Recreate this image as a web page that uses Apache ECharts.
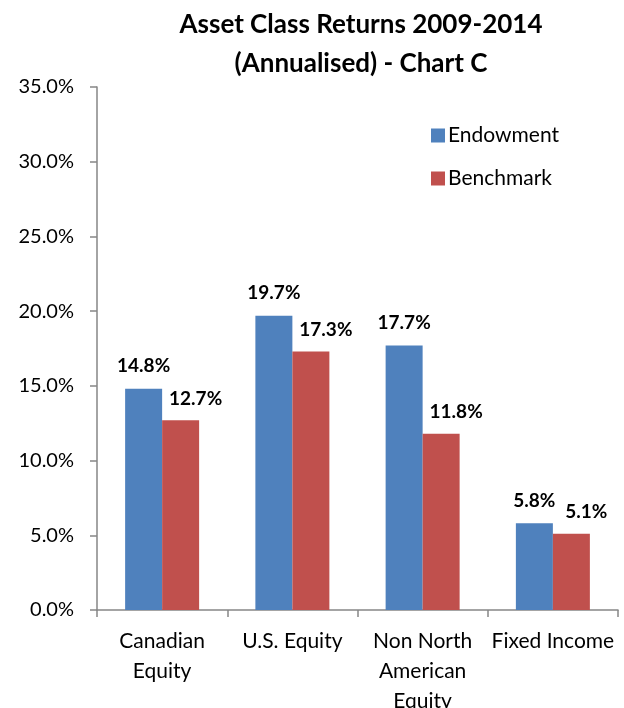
<!DOCTYPE html>
<html>
<head>
<meta charset="utf-8">
<script src="https://cdn.jsdelivr.net/npm/echarts@6/dist/echarts.min.js"></script>
<style>
  html, body { margin: 0; padding: 0; background: #fff; }
  #chart { width: 624px; height: 708px; }
</style>
</head>
<body>
<div id="chart"></div>
<script>
const categories = ["Canadian\nEquity", "U.S. Equity", "Non North\nAmerican\nEquity", "Fixed Income"];
const endowment = [14.8, 19.7, 17.7, 5.8];
const benchmark = [12.7, 17.3, 11.8, 5.1];
const yTicks = [0, 5, 10, 15, 20, 25, 30, 35];

const font = "Lato, 'Open Sans', sans-serif";
const chart = echarts.init(document.getElementById("chart"));

chart.setOption({
  animation: false,
  textStyle: { fontFamily: font },
  title: {
    text: "Asset Class Returns 2009-2014\n(Annualised) - Chart C",
    left: 356,
    top: 0,
    textAlign: "center",
    textStyle: { fontSize: 26, fontWeight: "bold", color: "#000", lineHeight: 39, fontFamily: font }
  },
  legend: {
    orient: "vertical",
    left: 426,
    top: 120,
    itemWidth: 14,
    itemHeight: 14,
    itemGap: 22,
    icon: "rect",
    textStyle: { fontSize: 21, color: "#000", fontFamily: font, padding: [0, 0, 0, -2] },
    data: ["Endowment", "Benchmark"]
  },
  grid: { left: 97, right: 6, top: 87, bottom: 98, outerBoundsMode: "none" },
  xAxis: {
    type: "category",
    data: categories,
    axisLine: { lineStyle: { color: "#868686", width: 1.5 } },
    axisTick: { show: true, length: 7, lineStyle: { color: "#868686", width: 1.5 } },
    axisLabel: { fontSize: 21, color: "#000", lineHeight: 30, margin: 16, interval: 0, fontFamily: font }
  },
  yAxis: {
    type: "value",
    min: yTicks[0],
    max: yTicks[yTicks.length - 1],
    interval: 5,
    splitLine: { show: false },
    axisLine: { show: true, lineStyle: { color: "#868686", width: 1.5 } },
    axisTick: { show: true, length: 7, lineStyle: { color: "#868686", width: 1.5 } },
    axisLabel: {
      fontSize: 20, color: "#000", margin: 23, fontFamily: font,
      formatter: v => v.toFixed(1) + "%"
    }
  },
  series: [
    {
      name: "Endowment",
      type: "bar",
      data: endowment,
      barWidth: 37,
      barGap: "0%",
      itemStyle: { color: "#4f81bd" },
      label: {
        show: true, position: "top", distance: 13,
        fontSize: 19, fontWeight: "bold", color: "#000", fontFamily: font,
        formatter: p => p.value.toFixed(1) + "%"
      }
    },
    {
      name: "Benchmark",
      type: "bar",
      data: benchmark,
      barWidth: 37,
      itemStyle: { color: "#c0504d" },
      label: {
        show: true, position: "top", distance: 12, offset: [15, 0],
        fontSize: 19, fontWeight: "bold", color: "#000", fontFamily: font,
        formatter: p => p.value.toFixed(1) + "%"
      }
    }
  ]
});
</script>
</body>
</html>
